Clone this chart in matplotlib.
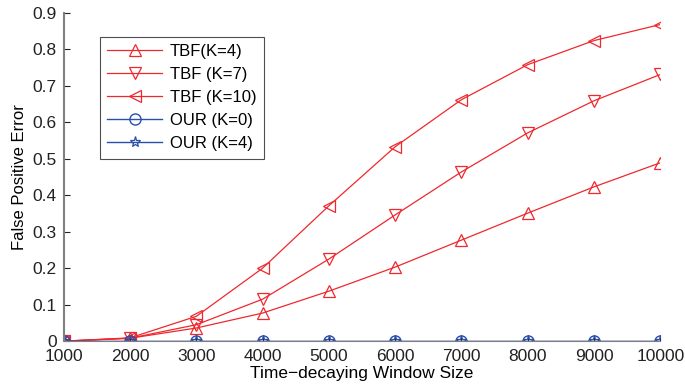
import matplotlib.pyplot as plt
import numpy as np

plt.rcParams['font.family'] = ['Liberation Sans', 'DejaVu Sans']

window = [1000, 2000, 3000, 4000, 5000, 6000, 7000, 8000, 9000, 10000]
tbf_k4 = [0.0, 0.008, 0.036, 0.077, 0.137, 0.203, 0.277, 0.351, 0.423, 0.489]
tbf_k7 = [0.0, 0.008, 0.045, 0.115, 0.225, 0.346, 0.464, 0.571, 0.659, 0.731]
tbf_k10 = [0.0, 0.009, 0.068, 0.200, 0.371, 0.533, 0.662, 0.758, 0.824, 0.868]
our_k0 = [0.0] * 10
our_k4 = [0.0] * 10

red = '#f0282d'
blue = '#2a4fa8'

fig = plt.figure(figsize=(6.85, 3.89), dpi=100)
ax = fig.add_axes([0.093, 0.123, 0.871, 0.844])

ax.plot(window, tbf_k4, color=red, lw=0.9, marker='^', ms=8, mfc='none', mew=0.9, label='TBF(K=4)')
ax.plot(window, tbf_k7, color=red, lw=0.9, marker='v', ms=8, mfc='none', mew=0.9, label='TBF (K=7)')
ax.plot(window, tbf_k10, color=red, lw=0.9, marker='<', ms=8, mfc='none', mew=0.9, label='TBF (K=10)')
ax.plot(window, our_k0, color=blue, lw=1.0, marker='o', ms=8, mfc='none', mew=1.0, label='OUR (K=0)')
ax.plot(window, our_k4, color=blue, lw=1.0, marker='*', ms=8, mfc='none', mew=0.9, label='OUR (K=4)')

ax.set_xlim(1000, 10000)
ax.set_ylim(0, 0.9)
ax.set_xticks(window)
ax.set_yticks(np.arange(0, 0.91, 0.1))
ax.set_yticklabels(['0', '0.1', '0.2', '0.3', '0.4', '0.5', '0.6', '0.7', '0.8', '0.9'])
ax.tick_params(direction='in', labelsize=12.5, colors='#222222', length=4)
ax.tick_params(axis='x', pad=6)
ax.tick_params(axis='y', pad=5)
ax.spines['top'].set_visible(False)
ax.spines['right'].set_visible(False)
ax.spines['left'].set_color('#808080')
ax.spines['left'].set_linewidth(1.5)
ax.spines['bottom'].set_color('#808080')
ax.set_xlabel('Time\u2212decaying Window Size', fontsize=12.5, labelpad=1)
ax.set_ylabel('False Positive Error', fontsize=12, labelpad=4)

leg = ax.legend(loc='upper left', bbox_to_anchor=(0.06, 0.927), borderaxespad=0, fontsize=12,
                frameon=True, fancybox=False, edgecolor='#222222', handlelength=3.3,
                borderpad=0.45, labelspacing=0.48, handletextpad=0.45)
leg.get_frame().set_linewidth(0.8)

plt.savefig('out.png', dpi=100)
